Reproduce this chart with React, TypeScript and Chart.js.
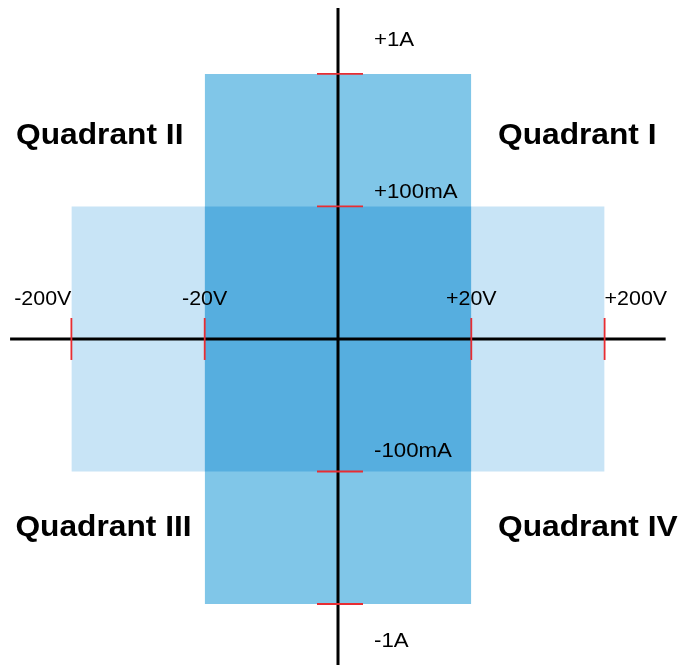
import React, { useEffect, useRef } from "react";
import { Chart, registerables } from "chart.js";

Chart.register(...registerables);

// Axis categories (placed on a symmetric level scale: ±1 = 20V / 100mA, ±2 = 200V / 1A)
const voltageLabels = ["-200V", "-20V", "+20V", "+200V"];
const voltageLevels = [-2, -1, 1, 2];
const currentLabels = ["+1A", "+100mA", "-100mA", "-1A"];
const currentLevels = [2, 1, -1, -2];

// Operating regions
const wideRegionX = [-2, 2]; // ±200V
const wideRegionY = [-1, 1]; // ±100mA
const tallRegionX = [-1, 1]; // ±20V
const tallRegionY = [-2, 2]; // ±1A

// Axis extents
const axisX = [-2.46, 2.458];
const axisY = [-2.46, 2.498];

// Quadrant names
const quadrantNames = ["Quadrant I", "Quadrant II", "Quadrant III", "Quadrant IV"];
const quadrantAnchorX = [1.2, -2.415, -2.42, 1.2];
const quadrantAnchorY = [1.469, 1.469, -1.487, -1.487];

// Label anchors (baselines)
const voltageLabelY = [0.256, 0.256, 0.256, 0.256];
const voltageAlign = ["right", "center", "center", "left"];
const currentLabelX = [0.27, 0.27, 0.27, 0.27];
const currentLabelY = [2.211, 1.062, -0.889, -2.327];

export default function App() {
  const ref = useRef<HTMLCanvasElement>(null);
  useEffect(() => {
    document.body.style.margin = "0";
    const canvas = ref.current!;
    const drawText = (ctx: any, t: string, x: number, y: number, sx: number) => {
      ctx.save();
      ctx.translate(x, y);
      ctx.scale(sx, 1);
      ctx.fillText(t, 0, 0);
      ctx.restore();
    };
    const labelPlugin = {
      id: "labels",
      afterDatasetsDraw(chart: any) {
        const ctx = chart.ctx;
        const xs = chart.scales.x;
        const ys = chart.scales.y;
        ctx.save();
        ctx.fillStyle = "#000";
        ctx.textBaseline = "alphabetic";
        ctx.font = '21px "Liberation Sans", Arial, sans-serif';
        voltageLabels.forEach((t, i) => {
          ctx.textAlign = voltageAlign[i];
          drawText(ctx, t, xs.getPixelForValue(voltageLevels[i]), ys.getPixelForValue(voltageLabelY[i]), 1.02);
        });
        ctx.textAlign = "left";
        currentLabels.forEach((t, i) => {
          drawText(ctx, t, xs.getPixelForValue(currentLabelX[i]), ys.getPixelForValue(currentLabelY[i]), 1.06);
        });
        ctx.font = 'bold 29.5px "Liberation Sans", Arial, sans-serif';
        quadrantNames.forEach((t, i) => {
          drawText(ctx, t, xs.getPixelForValue(quadrantAnchorX[i]), ys.getPixelForValue(quadrantAnchorY[i]), 1.075);
        });
        ctx.restore();
      },
    };
    const rectDs = (xr: number[], yr: number[], color: string, order: number) => ({
      type: "line",
      data: [
        { x: xr[0], y: yr[1] },
        { x: xr[1], y: yr[1] },
      ],
      fill: { value: yr[0] },
      backgroundColor: color,
      borderWidth: 0,
      borderColor: "rgba(0,0,0,0)",
      pointRadius: 0,
      order,
    });
    const chart = new Chart(canvas, {
      type: "line",
      data: {
        datasets: [
          rectDs(wideRegionX, wideRegionY, "rgb(200,228,246)", 10),
          rectDs(tallRegionX, tallRegionY, "rgb(128,198,232)", 9),
          rectDs(tallRegionX, wideRegionY, "rgb(86,174,223)", 8),
          {
            data: [
              { x: axisX[0], y: 0 },
              { x: axisX[1], y: 0 },
            ],
            borderColor: "#000",
            borderWidth: 3,
            pointRadius: 0,
            fill: false,
            order: 5,
          },
          {
            data: [
              { x: 0, y: axisY[0] },
              { x: 0, y: axisY[1] },
            ],
            borderColor: "#000",
            borderWidth: 3,
            pointRadius: 0,
            fill: false,
            order: 4,
          },
          {
            data: voltageLevels.map((v) => ({ x: v, y: 0 })),
            showLine: false,
            pointStyle: "line",
            rotation: 90,
            pointRadius: 21,
            pointBorderColor: "rgb(232,45,50)",
            pointBorderWidth: 1.8,
            fill: false,
            order: 2,
          },
          {
            data: currentLevels.map((v) => ({ x: 0.015, y: v })),
            showLine: false,
            pointStyle: "line",
            rotation: 0,
            pointRadius: 23,
            pointBorderColor: "rgb(232,45,50)",
            pointBorderWidth: 1.8,
            fill: false,
            order: 1,
          },
        ] as any,
      },
      options: {
        responsive: false,
        animation: false,
        layout: { padding: 0, autoPadding: false },
        plugins: { legend: { display: false }, tooltip: { enabled: false } },
        scales: {
          x: { type: "linear", min: -2.5356, max: 2.5731, display: false },
          y: { type: "linear", min: -2.483, max: 2.558, display: false },
        },
      },
      plugins: [labelPlugin],
    } as any);
    return () => chart.destroy();
  }, []);
  return (
    <div style={{ width: 681, height: 668 }}>
      <canvas ref={ref} width={681} height={668} />
    </div>
  );
}
